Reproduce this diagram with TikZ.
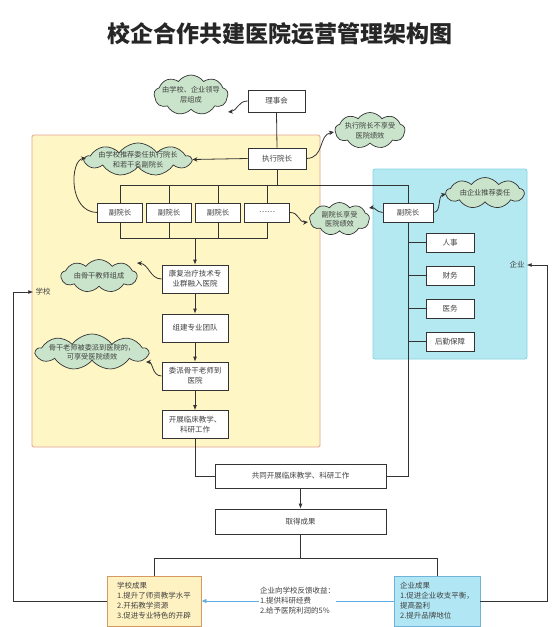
\documentclass[tikz,border=0pt]{standalone}
\usepackage{fontspec}
\setmainfont{Noto Sans CJK SC}
\usetikzlibrary{shapes.symbols,arrows.meta}
\definecolor{linec}{HTML}{333333}
\definecolor{textc}{HTML}{404040}
\definecolor{cloudc}{HTML}{C9E4CA}
\definecolor{xxf}{HTML}{FFF6C6}
\definecolor{xxb}{HTML}{E3A293}
\definecolor{qyf}{HTML}{B4E9F1}
\definecolor{qyb}{HTML}{86D3E3}
\definecolor{xcgf}{HTML}{FFF2C2}
\definecolor{xcgb}{HTML}{D59A62}
\definecolor{qcgf}{HTML}{B1E7F4}
\definecolor{qcgb}{HTML}{6FB3DB}
\definecolor{fkc}{HTML}{5DADE2}
\tikzset{
  txt/.style={font=\fontsize{7.5}{10}\selectfont,text=textc,inner sep=2pt},
  box/.style={txt,draw=linec,line width=0.8pt,fill=white,inner sep=0pt,align=center},
  cloudy/.style={cloud,cloud puffs=9,cloud puff arc=110,cloud ignores aspect,draw=linec,line width=0.7pt,fill=cloudc,inner sep=0pt},
  ctxt/.style={txt,font=\fontsize{7.2}{9.5}\selectfont,align=center,inner sep=0pt},
  ln/.style={draw=linec,line width=0.8pt},
  arr/.style={ln,-{Latex[length=5pt,width=4pt]}},
  carr/.style={ln,-{Stealth[length=5pt,width=4.5pt]}},
  barr/.style={draw=fkc,line width=0.8pt,-{Latex[length=5pt,width=4.5pt]}}
}
\begin{document}
\begin{tikzpicture}[x=1pt,y=-1pt]
\useasboundingbox (0,0) rectangle (559,627);
\fill[white] (0,0) rectangle (559,627);
\node[font=\fontsize{23}{26}\selectfont\bfseries,text=black!85] (title) at (279.5,34) {校企合作共建医院运营管理架构图};

\draw[draw=xxb,fill=xxf,line width=0.8pt,rounded corners=1.5pt] (32,135) rectangle (320,447);
\draw[draw=qyb,fill=qyf,line width=0.8pt,rounded corners=2pt] (373,169) rectangle (527,359);
\node[txt] (xx) at (43,292) {学校};
\node[txt] (qy) at (517,265) {企业};

\node[box,minimum width=57pt,minimum height=22pt] (lsh) at (276.5,101) {理事会};
\node[box,minimum width=58pt,minimum height=21pt] (zx) at (277,158.5) {执行院长};
\foreach \x/\t [count=\i] in {120/副院长,169/副院长,218/副院长,267/\ldots\ldots}
  \node[box,minimum width=45pt,minimum height=19pt] (fy\i) at (\x,212.5) {\t};
\node[box,minimum width=50pt,minimum height=19pt] (qfy) at (408,212.5) {副院长};
\foreach \y/\t [count=\i] in {242.5/人事,275.5/财务,308.5/医务,341.5/后勤保障}
  \node[box,minimum width=48pt,minimum height=19pt] (bm\i) at (450,\y) {\t};
\node[box,minimum width=66pt,minimum height=28pt] (kf) at (195,279) {康复治疗技术专\\业群融入医院};
\node[box,minimum width=66pt,minimum height=28pt] (zj) at (195,328) {组建专业团队};
\node[box,minimum width=66pt,minimum height=28pt] (wp) at (195,376) {委派骨干老师到\\医院};
\node[box,minimum width=66pt,minimum height=28pt] (kz) at (195,424.5) {开展临床教学、\\科研工作};
\node[box,minimum width=171pt,minimum height=24pt] (gt) at (300.5,476) {共同开展临床教学、科研工作};
\node[box,minimum width=171pt,minimum height=25pt] (cg) at (300.5,521.5) {取得成果};
\node[box,draw=xcgb,fill=xcgf,align=left,minimum width=94pt,minimum height=50pt] (xcg) at (154,601) {学校成果\\1.提升了师资教学水平\\2.开拓教学资源\\3.促进专业特色的开辟};
\node[box,draw=qcgb,fill=qcgf,align=left,minimum width=86pt,minimum height=50pt] (qcg) at (437,601) {企业成果\\1.促进企业收支平衡，\\提高盈利\\2.提升品牌地位};

% 云框
\node[cloudy,minimum width=74pt,minimum height=40pt,label={[ctxt]center:由学校、企业领导\\层组成}] (cl1) at (191,95) {};
\node[cloudy,minimum width=70pt,minimum height=36pt,label={[ctxt]center:执行院长不享受\\医院绩效}] (cl2) at (370,130.5) {};
\node[cloudy,minimum width=106pt,minimum height=33pt,label={[ctxt]center:由学校推荐委任执行院长\\和若干名副院长}] (cl3) at (138,159.5) {};
\node[cloudy,minimum width=60pt,minimum height=33pt,label={[ctxt]center:副院长享受\\医院绩效}] (cl4) at (339.5,219) {};
\node[cloudy,minimum width=78pt,minimum height=31pt,label={[ctxt]center:由企业推荐委任}] (cl5) at (485,193) {};
\node[cloudy,minimum width=76pt,minimum height=33pt,label={[ctxt]center:由骨干教师组成}] (cl6) at (99,276) {};
\node[cloudy,minimum width=112pt,minimum height=36pt,label={[ctxt]center:骨干老师被委派到医院的，\\可享受医院绩效}] (cl7) at (92,352) {};

\draw[ln] (lsh.south) -- (zx.north);
\coordinate (b1) at (120,185);
\coordinate (b2) at (408,185);
\coordinate (b3) at (0,238);
\coordinate (b4) at (0,558);
\draw[ln] (zx.south) -- (zx.south |- b1);
\draw[ln] (fy1.north) -- (b1) -- (b2) -- (qfy.north);
\foreach \i in {2,3,4} \draw[ln] (fy\i.north) -- (fy\i.north |- b1);
\draw[ln] (fy1.south) -- (fy1.south |- b3) -- (fy4.south |- b3) -- (fy4.south);
\foreach \i in {2,3} \draw[ln] (fy\i.south) -- (fy\i.south |- b3);
\draw[arr] (kf.north |- b3) -- (kf.north);
\draw[arr] (kf) -- (zj);
\draw[arr] (zj) -- (wp);
\draw[arr] (wp) -- (kz);
\draw[ln] (kz.south) |- (gt.west);
\draw[ln] (qfy.south) |- (gt.east);
\foreach \i in {1,2,3,4} \draw[ln] (qfy.south |- bm\i.west) -- (bm\i.west);
\draw[arr] (gt) -- (cg);
\draw[ln] (cg.south) -- (cg.south |- b4);
\draw[ln] (xcg.north) -- (xcg.north |- b4) -- (qcg.north |- b4) -- (qcg.north);
\draw[arr] (xcg.west) -| ([xshift=-20pt]xx.west) -- (xx.west);
\draw[arr] (qcg.east) -| ([xshift=21pt]qy.east) -- (qy.east);
\draw[barr] (qcg.west) -- node[txt,fill=white,align=left,inner sep=1pt] (fk) {企业向学校反馈收益：\\1.提供科研经费\\2.给予医院利润的5\%} (xcg.east);

\draw[carr] (lsh.west) .. controls (238,101) and (237,111) .. (228,112);
\draw[carr] (zx.east) .. controls (325,158) and (318,135) .. (334,132);
\draw[carr] (zx.west) -- (cl3.east);
\draw[carr] (fy1.west) .. controls (68,212) and (70,160) .. (86,158);
\draw[carr] (fy4.east) .. controls (299,212) and (299,223) .. (308,222);
\draw[carr] (qfy.west) .. controls (376,212) and (375,207) .. (369,208);
\draw[carr] (qfy.east) .. controls (442,212) and (437,196) .. (446,194);
\draw[carr] (kf.west) .. controls (150,279) and (149,264) .. (137,263);
\draw[carr] (wp.west) .. controls (152,376) and (153,362) .. (146,362);
\end{tikzpicture}
\end{document}
